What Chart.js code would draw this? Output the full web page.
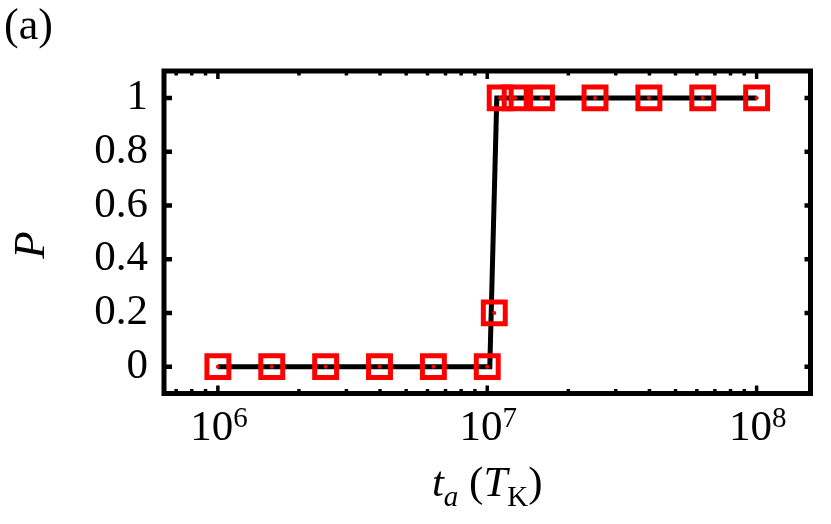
<!DOCTYPE html>
<html>
<head>
<meta charset="utf-8">
<script src="https://cdn.jsdelivr.net/npm/chart.js@4/dist/chart.umd.min.js"></script>
<style>
  html, body { margin: 0; padding: 0; background: #fff; }
  canvas { display: block; }
</style>
</head>
<body>
<canvas id="chart" width="831" height="524"></canvas>
<script>
// measured points: annealing time t_a (in T_K) vs probability P
var timeVals = [1e6, 1.585e6, 2.512e6, 3.981e6, 6.31e6, 1e7, 1.062e7, 1.117e7, 1.27e7, 1.59e7, 2.512e7, 3.981e7, 6.31e7, 1e8];
var probVals = [0, 0, 0, 0, 0, 0, 0.2, 1, 1, 1, 1, 1, 1, 1];

// black guide curve
var curveTime = [1e6, 1.022e7, 1.085e7, 1e8];
var curveProb = [0, 0, 1, 1];

// axis ticks
var xMajor = [1e6, 1e7, 1e8];
var yTicks = [0, 0.2, 0.4, 0.6, 0.8, 1];

var SERIF = "'Liberation Serif', 'DejaVu Serif', serif";

function toPts(xs, ys) {
    return xs.map(function (x, i) { return { x: x, y: ys[i] }; });
}

// frame, inward ticks and the text bits chart.js can't do (superscripts, subscripts)
var framePlugin = {
    id: 'frame',
    afterDraw: function (chart) {
        var ctx = chart.ctx;
        var a = chart.chartArea;
        var xs = chart.scales.x, ys = chart.scales.y;
        ctx.save();
        ctx.strokeStyle = '#000';
        ctx.fillStyle = '#000';

        ctx.lineWidth = 5;
        ctx.strokeRect(a.left, a.top, a.right - a.left, a.bottom - a.top);

        // x ticks (top + bottom), minor ones at 2..9 x 10^k
        ctx.lineWidth = 3.5;
        for (var k = 5; k <= 8; k++) {
            for (var m = 1; m <= 9; m++) {
                var v = m * Math.pow(10, k);
                if (v < xs.min || v > xs.max) continue;
                var px = xs.getPixelForValue(v);
                var len = (m === 1) ? 8 : 4.5;
                ctx.beginPath();
                ctx.moveTo(px, a.bottom); ctx.lineTo(px, a.bottom - len);
                ctx.moveTo(px, a.top); ctx.lineTo(px, a.top + len);
                ctx.stroke();
            }
        }
        // y ticks left + right
        ctx.lineWidth = 4.5;
        yTicks.forEach(function (v) {
            var py = ys.getPixelForValue(v);
            ctx.beginPath();
            ctx.moveTo(a.left, py); ctx.lineTo(a.left + 8, py);
            ctx.moveTo(a.right, py); ctx.lineTo(a.right - 6, py);
            ctx.stroke();
        });

        // x tick labels 10^n
        ctx.textBaseline = 'alphabetic';
        ctx.textAlign = 'left';
        xMajor.forEach(function (v) {
            var px = xs.getPixelForValue(v);
            var exp = String(Math.round(Math.log10(v)));
            ctx.font = '43px ' + SERIF;
            var wBase = ctx.measureText('10').width;
            ctx.font = '29px ' + SERIF;
            var wExp = ctx.measureText(exp).width;
            var x0 = px - (wBase + wExp) / 2 + 1;
            ctx.font = '43px ' + SERIF;
            ctx.fillText('10', x0, 440);
            ctx.font = '29px ' + SERIF;
            ctx.fillText(exp, x0 + wBase, 427);
        });

        // x title: t_a (T_K)
        var parts = [
            { t: 't', f: 'italic 43px ', dy: 0 },
            { t: 'a', f: 'italic 29px ', dy: 10 },
            { t: ' (', f: '43px ', dy: 0 },
            { t: 'T', f: 'italic 43px ', dy: 0 },
            { t: 'K', f: '29px ', dy: 10 },
            { t: ')', f: '43px ', dy: 0 }
        ];
        var total = 0;
        parts.forEach(function (p) { ctx.font = p.f + SERIF; p.w = ctx.measureText(p.t).width; total += p.w; });
        var cx = (a.left + a.right) / 2 - total / 2;
        parts.forEach(function (p) {
            ctx.font = p.f + SERIF;
            ctx.fillText(p.t, cx, 496 + p.dy);
            cx += p.w;
        });

        // y title
        ctx.save();
        ctx.translate(44, 245);
        ctx.rotate(-Math.PI / 2);
        ctx.textAlign = 'center';
        ctx.font = 'italic 45px ' + SERIF;
        ctx.fillText('P', 0, 0);
        ctx.restore();

        // panel tag
        ctx.font = '44px ' + SERIF;
        ctx.fillText('(a)', 4, 39);
        ctx.restore();
    }
};

var ctxChart = document.getElementById('chart').getContext('2d');
var chart = new Chart(ctxChart, {
    type: 'scatter',
    plugins: [framePlugin],
    data: {
        datasets: [{
            // centre dots
            data: toPts(timeVals, probVals),
            pointStyle: 'circle',
            pointRadius: 2,
            backgroundColor: '#ff0000',
            borderWidth: 0,
            order: 0
        }, {
            // open squares
            data: toPts(timeVals, probVals),
            pointStyle: 'rect',
            pointRadius: 15.5,
            borderColor: '#ff0000',
            backgroundColor: 'rgba(0,0,0,0)',
            borderWidth: 5,
            order: 1
        }, {
            data: toPts(curveTime, curveProb),
            showLine: true,
            pointRadius: 0,
            borderColor: '#000',
            borderWidth: 5,
            fill: false,
            tension: 0,
            order: 2
        }]
    },
    options: {
        responsive: false,
        animation: false,
        devicePixelRatio: 1,
        layout: { padding: { left: 0, right: 20.5, top: 71, bottom: 0 } },
        plugins: {
            legend: { display: false },
            title: { display: false },
            tooltip: { enabled: false }
        },
        scales: {
            x: {
                type: 'logarithmic',
                min: Math.pow(10, 5.8),
                max: Math.pow(10, 8.2),
                grid: { display: false, drawTicks: false },
                border: { display: false },
                ticks: { display: false },
                afterBuildTicks: function (s) { s.ticks = xMajor.map(function (v) { return { value: v }; }); },
                afterFit: function (s) { s.height = 130.5; }
            },
            y: {
                min: -0.1,
                max: 1.1,
                grid: { display: false, drawTicks: false },
                border: { display: false },
                ticks: {
                    padding: 16,
                    color: '#000',
                    font: { family: SERIF, size: 43 },
                    callback: function (v) { return String(v); }
                },
                afterBuildTicks: function (s) { s.ticks = yTicks.map(function (v) { return { value: v }; }); },
                afterFit: function (s) { s.width = 164; }
            }
        }
    }
});
</script>
</body>
</html>
